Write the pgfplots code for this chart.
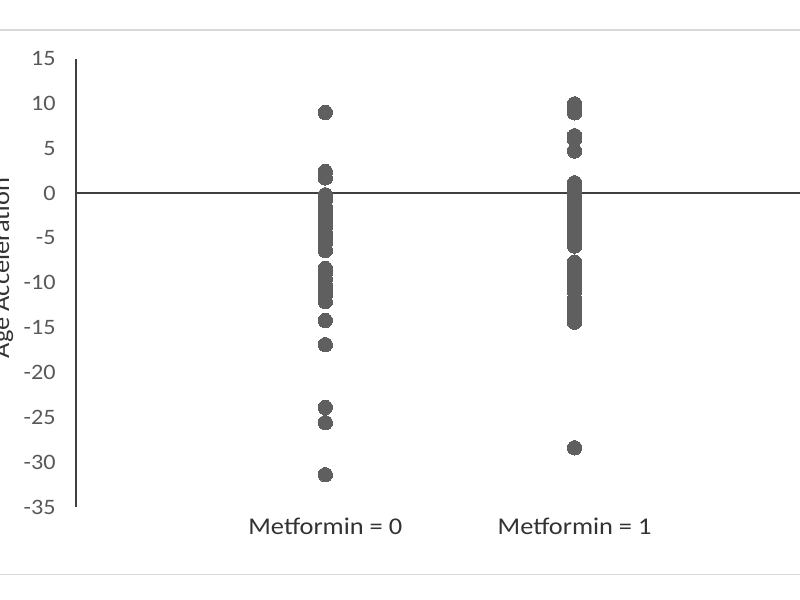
\documentclass[border=0pt]{standalone}
\usepackage{pgfplots}
\pgfplotsset{compat=1.18}
\usepackage{pgfplotstable}
\usepackage{fontspec}
\setmainfont{Carlito}[FakeStretch=1.1]
\definecolor{dotgray}{HTML}{5F5F5F}
\definecolor{tickgray}{HTML}{595959}
\definecolor{labgray}{HTML}{333333}
\definecolor{axgray}{HTML}{404040}
\definecolor{framegray}{HTML}{D9D9D9}

\pgfplotstableread{
x y
1 9.0
1 2.4
1 1.7
1 -0.2
1 -0.8
1 -1.5
1 -2.1
1 -2.7
1 -3.2
1 -3.8
1 -4.4
1 -5.0
1 -5.6
1 -6.4
1 -8.4
1 -8.9
1 -9.6
1 -10.2
1 -10.8
1 -11.4
1 -12.1
1 -14.2
1 -16.9
1 -23.9
1 -25.6
1 -31.4
}\metzero

\pgfplotstableread{
x y
2 9.95
2 9.4
2 8.95
2 6.4
2 6.0
2 4.7
2 1.15
2 0.5
2 -0.2
2 -0.9
2 -1.6
2 -2.2
2 -2.8
2 -3.4
2 -4.0
2 -4.6
2 -5.2
2 -5.9
2 -7.7
2 -8.3
2 -9.0
2 -9.7
2 -10.3
2 -11.0
2 -11.8
2 -12.4
2 -13.1
2 -13.7
2 -14.4
2 -28.4
}\metone

\begin{document}
\begin{tikzpicture}
\useasboundingbox (0,0) rectangle (400pt,300pt);
\clip (0,0) rectangle (400pt,300pt);
\fill[white] (0,0) rectangle (400pt,300pt);
\draw[framegray, line width=0.8pt] (0,285pt) -- (400pt,285pt);
\draw[framegray, line width=0.8pt] (0,12.65pt) -- (400pt,12.65pt);
\begin{axis}[
  at={(38pt,46.5pt)}, anchor=south west,
  scale only axis,
  width=362pt, height=224.2pt,
  xmin=0, xmax=2.904,
  ymin=-35, ymax=15,
  axis lines*=left,
  x axis line style={draw=none},
  y axis line style={axgray, line width=0.7pt},
  major tick length=0pt,
  ytick={-35,-30,...,15},
  xtick={1,2},
  xticklabels={Metformin = 0, Metformin = 1},
  /pgf/number format/assume math mode=true,
  yticklabel style={font=\fontsize{11}{13}\selectfont, tickgray, inner sep=0pt, anchor=east, xshift=-10pt},
  xticklabel style={font=\fontsize{12}{14}\selectfont, labgray, inner sep=0pt, anchor=base, yshift=-14pt},
  ylabel={Age Acceleration},
  ylabel style={at={(axis description cs:-0.0925,0.533)}, anchor=base, rotate=0,
    font=\fontsize{12}{14}\selectfont, labgray},
  clip=false,
]
\draw[axgray, line width=0.7pt] (axis cs:0,0) -- (axis cs:2.904,0);
\addplot[only marks, mark=*, mark size=3.6pt, color=dotgray, mark options={fill=dotgray, draw=dotgray, line width=0pt}] table[x=x,y=y] {\metzero};
\addplot[only marks, mark=*, mark size=3.6pt, color=dotgray, mark options={fill=dotgray, draw=dotgray, line width=0pt}] table[x=x,y=y] {\metone};
\end{axis}
\end{tikzpicture}
\end{document}
